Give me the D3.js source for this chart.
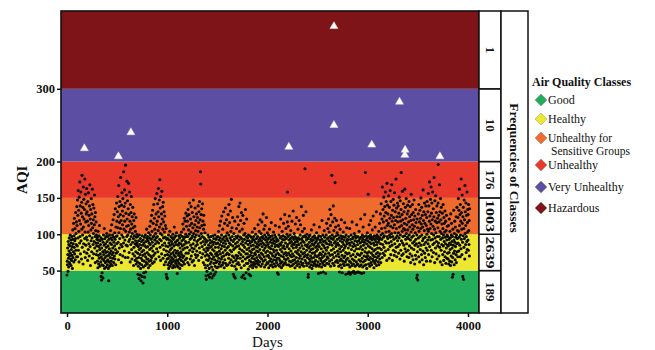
<!DOCTYPE html>
<html><head><meta charset="utf-8">
<script src="https://cdn.jsdelivr.net/npm/d3@7"></script>
<style>
body{margin:0;background:#fff}
svg{display:block}
text{font-family:"Liberation Serif","Times New Roman",serif;fill:#111}
</style>
</head><body>
<svg id="chart" width="655" height="350"></svg>
<script>
// ---------------- data ----------------
const dayStep = 2;
const blockStartDays = [0, 1000, 2000, 3000];
const aqiDays0to998 = [
44,63,58,81,72,49,90,67,55,86,77,95,61,70,84,59,99,74,66,92,57,88,79,64,97,71,83,53,93,106,68,87,76,115,62,98,82,122,73,91,108,65,94,130,78,101,86,117,69,138,
112,84,147,69,126,95,160,78,133,104,62,151,119,88,172,97,139,73,114,158,91,129,66,144,107,181,82,124,99,137,59,165,110,87,148,121,76,134,94,176,103,68,155,117,85,142,128,96,163,74,
131,92,118,64,145,103,79,157,112,87,126,70,139,98,168,83,121,57,134,106,91,149,115,76,128,95,162,67,109,141,86,120,101,73,136,90,113,154,81,124,97,61,130,105,88,117,72,99,84,93,
77,96,63,88,54,104,71,92,59,83,98,67,112,79,56,91,73,86,62,95,42,69,37,81,58,47,93,66,76,40,89,57,99,72,64,85,108,53,78,94,68,61,87,75,97,55,82,70,101,63,
90,58,76,97,65,84,53,71,36,93,62,80,99,56,74,88,68,105,59,95,77,63,86,113,72,92,57,99,81,67,120,75,96,61,89,127,70,84,102,66,93,135,79,58,110,97,74,143,87,118,
98,131,76,152,109,89,124,65,167,102,138,81,116,94,145,72,127,108,178,86,119,61,140,99,157,83,132,113,70,149,96,125,88,186,107,138,77,161,118,92,143,68,195,104,129,85,154,111,97,173,
121,84,146,99,68,135,112,170,90,127,75,103,158,93,118,62,141,107,86,130,97,152,79,114,66,124,101,89,137,73,109,94,57,119,82,128,98,70,111,87,64,104,91,76,123,59,96,85,67,100,
88,62,97,74,45,83,56,91,68,39,79,99,60,86,72,44,94,53,81,36,67,90,58,76,42,98,64,85,71,33,92,55,78,47,88,63,96,41,73,84,57,99,69,48,90,61,82,107,66,94,
75,59,97,83,66,91,54,102,72,88,63,95,79,111,57,86,99,70,118,64,93,81,126,68,104,89,60,133,77,96,115,84,71,141,98,62,122,92,107,74,149,87,101,66,128,95,113,80,156,90,
118,97,142,76,131,105,163,88,124,69,147,110,93,175,82,136,101,64,152,114,91,128,73,159,99,121,85,138,107,67,144,95,117,79,131,58,103,88,125,71,96,112,62,84,108,45,77,93,41,66
];
const aqiDays1000to1998 = [
39,72,94,58,83,67,99,53,88,76,61,92,70,104,56,85,79,64,97,73,59,90,68,81,95,62,87,54,100,75,66,93,57,84,71,110,63,96,78,55,89,69,98,60,86,74,102,65,91,57,
46,77,63,92,55,85,71,98,60,88,74,66,95,53,81,69,99,58,87,76,64,103,72,91,57,84,97,68,114,79,62,93,107,70,86,122,59,96,81,118,65,90,100,129,74,88,111,67,97,125,
82,118,61,97,134,74,106,89,127,58,100,143,78,112,93,66,121,85,103,138,70,95,115,81,62,130,98,76,109,87,147,64,101,124,80,92,57,113,96,136,72,105,84,119,68,99,128,77,90,110,
86,123,71,104,139,92,116,64,131,98,81,145,109,75,120,94,186,169,88,127,101,68,135,112,83,97,142,73,118,90,61,107,126,79,95,113,58,86,102,70,93,54,76,43,89,38,65,81,49,72,
91,57,78,99,64,44,85,70,96,53,81,41,67,92,59,88,74,46,97,62,83,55,72,40,90,66,79,98,51,86,43,69,94,60,77,89,45,65,99,56,82,73,48,93,61,87,70,54,96,75,
63,88,71,97,55,82,104,67,92,59,77,112,86,62,95,73,118,56,90,80,66,99,125,69,84,58,93,107,75,61,88,131,70,96,54,83,115,65,91,78,136,60,87,98,72,120,57,94,81,102,
74,112,91,58,127,83,67,99,141,72,88,116,61,95,78,132,86,104,65,92,148,76,57,109,97,70,123,84,62,90,45,79,101,68,42,93,56,118,81,40,87,64,97,71,52,108,83,59,95,67,
89,124,70,98,61,113,84,138,75,92,58,104,80,143,67,96,119,72,87,54,130,94,41,78,107,63,90,126,69,85,44,99,76,115,57,93,82,39,101,66,134,88,73,47,97,60,121,79,91,68,
73,95,60,86,52,99,69,81,45,91,64,77,98,56,88,71,43,84,62,96,75,58,90,67,103,79,54,93,70,85,61,97,57,80,92,66,108,74,59,89,72,100,63,83,55,94,77,68,87,60,
82,97,64,113,76,90,58,85,71,104,93,62,79,120,68,95,87,56,101,74,91,66,117,83,59,97,72,88,128,63,94,78,107,69,86,55,99,81,112,65,92,75,58,96,84,123,70,89,61,102
];
const aqiDays2000to2998 = [
77,93,60,86,71,99,54,82,68,95,107,63,89,75,57,97,80,66,92,116,58,84,73,98,62,88,70,55,94,79,103,65,91,76,59,87,99,69,83,112,56,96,72,64,90,78,61,93,85,67,
47,74,58,91,45,83,67,99,72,110,56,87,64,95,79,60,121,85,70,97,54,89,76,104,62,93,81,57,98,69,115,84,73,59,92,66,127,80,96,61,88,75,108,65,94,71,58,100,83,117,
158,86,67,97,111,74,58,92,80,125,63,88,71,99,56,94,105,77,62,90,69,84,118,57,96,73,87,64,132,81,59,93,70,101,86,65,97,54,89,114,76,61,95,82,68,123,92,57,85,74,
90,63,107,78,95,59,86,72,119,67,93,55,81,99,70,113,62,88,76,138,58,94,84,66,104,91,73,60,97,126,80,56,89,69,108,75,98,190,64,85,71,96,131,61,92,78,57,100,83,68,
86,72,94,41,45,60,81,97,66,89,55,76,99,63,84,70,93,58,79,106,67,91,53,87,74,62,96,80,57,92,68,85,113,61,98,75,59,88,71,95,64,82,56,90,77,102,69,93,58,84,
79,95,62,87,46,71,98,56,83,110,67,92,74,59,89,47,97,64,80,72,55,93,119,68,86,61,99,76,48,90,58,84,70,105,63,96,81,57,91,73,46,88,65,99,78,115,60,87,69,94,
82,108,67,95,121,74,59,91,103,86,63,134,97,71,112,56,89,127,78,94,65,181,85,99,72,117,60,93,139,80,68,105,96,57,88,122,75,171,90,62,110,83,98,70,119,86,64,102,93,77,
88,61,99,73,112,56,85,69,95,48,80,64,107,91,58,76,98,66,120,83,54,94,71,47,89,63,97,78,103,59,86,68,92,57,81,116,70,96,62,84,75,45,99,65,90,109,58,87,73,93,
67,92,46,81,58,97,48,74,88,63,108,55,85,45,93,70,61,99,47,79,89,57,117,66,94,48,83,72,96,59,49,87,64,101,77,46,91,56,84,98,69,47,95,62,80,113,58,90,73,48,
86,59,97,72,48,91,65,104,80,56,94,71,47,88,63,121,83,58,96,74,46,90,67,99,79,55,93,110,62,85,47,97,70,89,57,127,76,64,185,92,81,58,98,69,87,53,95,74,102,66
];
const aqiDays3000to4016 = [
91,70,155,84,59,97,76,113,65,89,56,94,82,68,99,119,61,87,74,96,58,92,80,106,66,95,71,125,63,88,77,54,98,85,69,93,60,110,79,97,64,90,73,131,57,86,99,68,94,81,
75,97,62,89,70,104,58,92,81,115,66,95,73,128,87,61,99,142,79,108,93,121,68,165,101,86,134,74,117,96,151,82,125,98,71,138,109,90,158,77,130,103,145,88,119,64,170,97,112,140,
94,128,79,115,153,88,104,67,137,99,122,83,160,96,111,72,145,90,126,101,168,85,118,64,133,97,109,148,78,123,93,140,71,113,157,87,102,131,76,119,95,176,82,108,136,69,124,98,143,91,
117,83,139,102,74,129,95,151,110,86,124,66,146,99,118,78,134,185,91,112,71,127,104,159,88,120,97,73,142,108,85,131,63,115,98,162,80,106,137,93,122,76,149,101,87,113,69,128,96,140,
106,78,132,94,117,68,145,99,84,124,110,73,138,92,61,119,103,155,81,127,96,70,113,141,88,107,65,130,98,120,79,147,90,111,59,125,85,102,71,134,93,116,66,87,40,99,121,44,76,109,
37,83,128,95,69,141,104,88,117,62,133,97,79,122,108,150,85,114,72,137,99,65,126,91,110,77,161,94,119,58,131,86,105,143,74,115,96,68,127,89,139,81,112,63,123,100,145,78,107,92,
131,87,156,104,72,139,96,118,172,83,125,108,63,148,92,114,165,78,129,101,143,69,120,93,158,86,111,135,75,99,124,178,88,107,61,146,95,118,81,153,102,73,130,90,116,139,66,97,122,84,
109,143,196,88,126,70,117,97,168,82,131,104,62,149,93,120,78,137,101,86,114,58,129,95,72,108,141,84,99,64,123,90,115,76,103,132,69,96,87,118,60,105,81,126,92,67,99,111,74,85,
97,66,84,112,59,93,75,121,88,63,104,79,95,57,128,86,70,99,115,62,90,81,41,97,68,107,45,85,74,133,92,58,101,77,118,89,65,110,83,96,72,124,61,99,87,137,76,94,105,69,
123,88,149,104,77,133,96,162,112,85,127,69,141,99,118,80,176,93,130,107,72,154,115,89,42,124,98,137,38,108,82,147,94,120,66,167,101,131,86,112,143,75,97,126,90,158,79,116,103,134,
92,127,78,141,105,86,119,70,135
];
// very unhealthy / hazardous days (white triangles)
const extremeDays = [173, 513, 637, 2213, 2663, 2663, 3040, 3317, 3373, 3370, 3720];
const extremeAQI  = [218, 207, 240, 220, 386, 250, 223, 282, 216, 209, 207];

const classNames = ["Good", "Healthy", "Unhealthy for Sensitive Groups", "Unhealthy", "Very Unhealthy", "Hazardous"];
const classLower = [-Infinity, 50, 100, 150, 200, 300];
const classUpper = [50, 100, 150, 200, 300, Infinity];
const classFrequencies = [189, 2639, 1003, 176, 10, 1];
const xTickValues = [0, 1000, 2000, 3000, 4000];
const yTickValues = [50, 100, 150, 200, 300];

// ---------------- styles ----------------
const classColors = ["#22ad5b", "#eee731", "#ef6b2e", "#e8392b", "#5c4fa3", "#7e1417"];

// ---------------- drawing ----------------
const svg = d3.select("#chart");
const plot = {left: 61, right: 479, top: 11, bottom: 313};
const x = d3.scaleLinear().domain([-60, 4110]).range([plot.left, plot.right]);
const y = d3.scaleLinear().domain([-8.3, 407]).range([plot.bottom, plot.top]);
const yLo = v => Math.max(v, y.domain()[0]);
const yHi = v => Math.min(v, y.domain()[1]);

const blocks = [aqiDays0to998, aqiDays1000to1998, aqiDays2000to2998, aqiDays3000to4016];
const points = [];
blocks.forEach((arr, b) => arr.forEach((v, i) => points.push({day: blockStartDays[b] + i * dayStep, aqi: v})));
const extremes = extremeDays.map((d, i) => ({day: d, aqi: extremeAQI[i]}));
const classes = classNames.map((n, i) => ({name: n, lo: classLower[i], hi: classUpper[i], freq: classFrequencies[i], color: classColors[i]}));

// bands
svg.append("g").selectAll("rect").data(classes).join("rect")
  .attr("x", plot.left).attr("width", plot.right - plot.left)
  .attr("y", d => y(yHi(d.hi))).attr("height", d => y(yLo(d.lo)) - y(yHi(d.hi)))
  .attr("fill", d => d.color);

// points
svg.append("g").selectAll("circle").data(points).join("circle")
  .attr("cx", d => x(d.day)).attr("cy", d => y(d.aqi)).attr("r", 1.55)
  .attr("fill", "#0a0a0a");

svg.append("g").selectAll("path").data(extremes).join("path")
  .attr("transform", d => `translate(${x(d.day)},${y(d.aqi)})`)
  .attr("d", d3.symbol(d3.symbolTriangle, 28))
  .attr("fill", "#fff").attr("stroke", "#ddd").attr("stroke-width", 0.5);

// frame
svg.append("rect").attr("x", plot.left).attr("y", plot.top)
  .attr("width", plot.right - plot.left).attr("height", plot.bottom - plot.top)
  .attr("fill", "none").attr("stroke", "#111").attr("stroke-width", 1.6);

// axes
const xAxis = svg.append("g").attr("transform", `translate(0,${plot.bottom})`)
  .call(d3.axisBottom(x).tickValues(xTickValues).tickFormat(d3.format("d")).tickSize(4).tickPadding(4));
const yAxis = svg.append("g").attr("transform", `translate(${plot.left},0)`)
  .call(d3.axisLeft(y).tickValues(yTickValues).tickFormat(d3.format("d")).tickSize(4).tickPadding(2));
[xAxis, yAxis].forEach(a => {
  a.select(".domain").remove();
  a.selectAll(".tick line").attr("stroke", "#111").attr("stroke-width", 1.5);
  a.selectAll(".tick text").attr("font-family", "Liberation Serif, serif").attr("font-weight", "bold")
    .attr("font-size", 12.5).attr("fill", "#333");
});

svg.append("text").attr("x", x(2000)).attr("y", 347).attr("text-anchor", "middle")
  .attr("font-size", 15).attr("fill", "#333").text("Days");
svg.append("text").attr("transform", `translate(27,${y(175)}) rotate(-90)`).attr("text-anchor", "middle")
  .attr("font-size", 15).attr("font-weight", "bold").text("AQI");

// frequency panel
const fp = {x1: plot.right, x2: 501, x3: 528};
svg.append("g").selectAll("rect").data(classes).join("rect")
  .attr("x", fp.x1).attr("width", fp.x2 - fp.x1)
  .attr("y", d => y(yHi(d.hi))).attr("height", d => y(yLo(d.lo)) - y(yHi(d.hi)))
  .attr("fill", "#fff").attr("stroke", "#111").attr("stroke-width", 1.5);
svg.append("g").selectAll("text").data(classes).join("text")
  .attr("transform", d => `translate(${(fp.x1 + fp.x2) / 2 - 4},${(y(yHi(d.hi)) + y(yLo(d.lo))) / 2}) rotate(90)`)
  .attr("text-anchor", "middle").attr("font-size", 13).attr("font-weight", "bold")
  .each(function(d){ const s = String(d.freq); const t = d3.select(this).text(s);
      if (s.length >= 4) t.attr("textLength", 32).attr("lengthAdjust", "spacingAndGlyphs"); });
svg.append("rect").attr("x", fp.x2).attr("y", plot.top).attr("width", fp.x3 - fp.x2)
  .attr("height", plot.bottom - plot.top).attr("fill", "#fff").attr("stroke", "#111").attr("stroke-width", 1.5);
svg.append("text").attr("transform", `translate(${(fp.x2 + fp.x3) / 2 - 4.5},${(plot.top + plot.bottom) / 2 + 6}) rotate(90)`)
  .attr("text-anchor", "middle").attr("font-size", 13.5).attr("font-weight", "bold").attr("fill", "#222")
  .text("Frequencies of Classes");

// legend
const lg = svg.append("g");
lg.append("text").attr("x", 532).attr("y", 86).attr("font-size", 12).attr("font-weight", "bold").text("Air Quality Classes");
const itemY = [100, 119, 138, 165, 187, 208];
const items = lg.selectAll("g.item").data(classes).join("g").attr("class", "item")
  .attr("transform", (d, i) => `translate(541,${itemY[i]})`);
items.append("path").attr("d", "M0,-6L6,0L0,6L-6,0Z").attr("fill", d => d.color)
  .attr("stroke", "#777").attr("stroke-width", 0.4);
items.each(function(d){
  const g = d3.select(this);
  if (d.name === "Unhealthy for Sensitive Groups") {
    g.append("text").attr("x", 7).attr("y", 4).attr("font-size", 11.5).attr("fill", "#333").text("Unhealthy for");
    g.append("text").attr("x", 10).attr("y", 17).attr("font-size", 11.5).attr("fill", "#333").text("Sensitive Groups");
  } else {
    g.append("text").attr("x", 7).attr("y", 4).attr("font-size", 12).attr("fill", "#333").text(d.name);
  }
});
</script>
</body></html>
